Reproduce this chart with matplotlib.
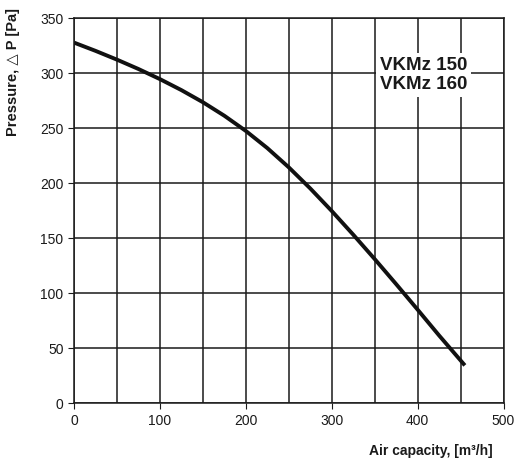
import numpy as np
import matplotlib
matplotlib.use("Agg")
import matplotlib.pyplot as plt

plt.rcParams['font.family'] = ['Liberation Sans', 'DejaVu Sans']

# fan curve
flow = [0, 25, 50, 75, 100, 125, 150, 175, 200, 225, 250, 275,
        300, 325, 350, 375, 400, 425, 455]
pressure = [328, 320.5, 312.5, 304, 294.8, 284.8, 273.8, 261.5, 247.7, 232.1, 214.6, 195.4,
            174.9, 153.4, 131.2, 108.4, 85.2, 61.7, 34.5]

xticks = [0, 100, 200, 300, 400, 500]
yticks = [0, 50, 100, 150, 200, 250, 300, 350]
label = "VKMz 150\nVKMz 160"

fig = plt.figure(figsize=(5.15, 4.66), dpi=100)
ax = fig.add_axes([0.1437, 0.1345, 0.834, 0.826])

ax.set_xlim(0, 500)
ax.set_ylim(0, 350)
ax.set_xticks(xticks)
ax.set_xticks(np.arange(0, 501, 50), minor=True)
ax.set_yticks(yticks)
ax.grid(True, which='both', color='#1a1a1a', linewidth=1.1)
ax.tick_params(which='both', direction='out', length=4, width=0.8, labelsize=10,
               colors='#1a1a1a')
ax.tick_params(which='minor', length=0)
for s in ax.spines.values():
    s.set_linewidth(1.1)
    s.set_color('#1a1a1a')
ax.set_axisbelow(True)

ax.plot(flow, pressure, color='#111111', linewidth=2.8,
        solid_capstyle='butt', solid_joinstyle='round')

ax.text(0.915, 0.852, label, transform=ax.transAxes, ha='right', va='center',
        fontsize=13.5, fontweight='bold', linespacing=1.15, color='#1a1a1a',
        bbox=dict(facecolor='white', edgecolor='none', pad=3))

fig.text(0.956, 0.018, "Air capacity, [m³/h]", ha='right', va='bottom',
         fontsize=10, fontweight='bold', color='#1a1a1a')
fig.text(0.012, 0.982, "Pressure, \u25b3 P [Pa]", ha='left', va='top', rotation=90,
         fontsize=10.5, fontweight='bold', color='#1a1a1a')

fig.savefig("out.png", dpi=100)
